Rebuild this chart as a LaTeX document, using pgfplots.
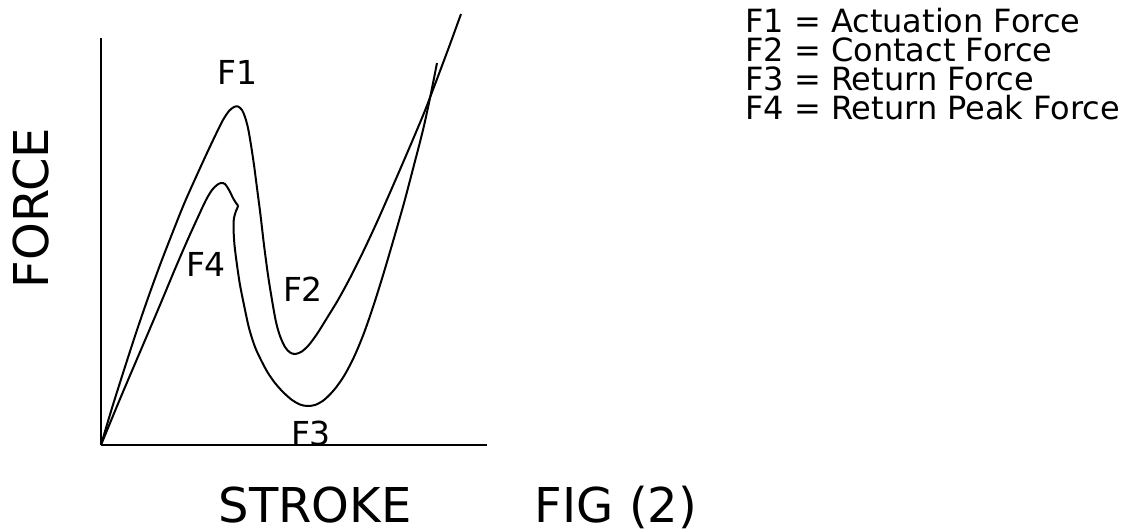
\documentclass[border=0pt]{standalone}
\usepackage{pgfplots}
\pgfplotsset{compat=1.18}
\usepackage{fontspec}
\setmainfont{DejaVu Sans}
\begin{document}
\begin{tikzpicture}
\begin{axis}[
  scale only axis,
  width=386pt, height=407pt,
  xmin=101, xmax=487, ymin=0, ymax=407,
  axis lines=left,
  axis line style={-, line width=2pt, black},
  ticks=none,
  clip=false,
  every axis plot/.append style={line width=2pt, black, no markers},
]
% upper curve (actuation)
\addplot[smooth, tension=0.5] coordinates {
(101,0) (112,37) (124,75) (136,112) (148,147) (160,180) (172,211)
(184,241) (196,268) (207,292) (216,311) (223,325) (229,334) (234,338)
(238,338.5) (242,335) (245,328) (248,317) (251,300) (254,280) (257,257)
(260.5,230) (264,200) (268,170) (272,145) (276,123) (280,109) (285,98)
(290,92.5) (295,91) (301,93) (308,99) (317,111) (327,127) (338,145)
(350,167) (363,193) (377,223) (392,257) (408,294) (424,332) (437,366)
(449,398) (461,431)
};
% lower curve (return)
\addplot[smooth, tension=0.5] coordinates {
(101,0) (120,46) (140,93) (160,140) (175,176) (188,206) (198,228)
(206,245) (212,255) (217,260) (221,262) (225,261) (229,255) (233,247)
(236,242) (238,239) (236,234) (234,227) (233.5,217) (234.5,200) (237,180)
(240,160) (244,140) (249,117) (255,98) (262,83) (268,72) (275,62)
(283,53) (292,45) (300,40.5) (307,39) (315,40) (324,45) (334,55)
(344,69) (354,88) (364,112) (374,141) (384,173) (394,207) (404,242)
(414,280) (423,315) (430,347) (437,382)
};
\begin{scope}[every node/.style={font=\fontsize{33}{40}\selectfont, inner sep=0pt}]
\node[anchor=base] at (axis cs:237.5,360) {F1};
\node[anchor=base] at (axis cs:206,168) {F4};
\node[anchor=base] at (axis cs:303,143) {F2};
\node[anchor=base] at (axis cs:311,0) {F3};
\end{scope}
\begin{scope}[every node/.style={font=\fontsize{32}{38}\selectfont, inner sep=0pt, anchor=base west}]
\node at (axis cs:745,412) {F1 = Actuation Force};
\node at (axis cs:745,383) {F2 = Contact Force};
\node at (axis cs:745,354) {F3 = Return Force};
\node at (axis cs:745,325) {F4 = Return Peak Force};
\end{scope}
\begin{scope}[every node/.style={font=\fontsize{48}{57}\selectfont, inner sep=0pt}]
\node[anchor=base] at (axis cs:315,-77) {STROKE};
\node[anchor=base] at (axis cs:616,-77) {FIG (2)};
\node[anchor=base, rotate=90] at (axis cs:49,237) {FORCE};
\end{scope}
\coordinate (bl) at (axis cs:0,-87);
\coordinate (tr) at (axis cs:1131,445);
\end{axis}
\pgfresetboundingbox
\path[use as bounding box] (bl) rectangle (tr);
\end{tikzpicture}
\end{document}
